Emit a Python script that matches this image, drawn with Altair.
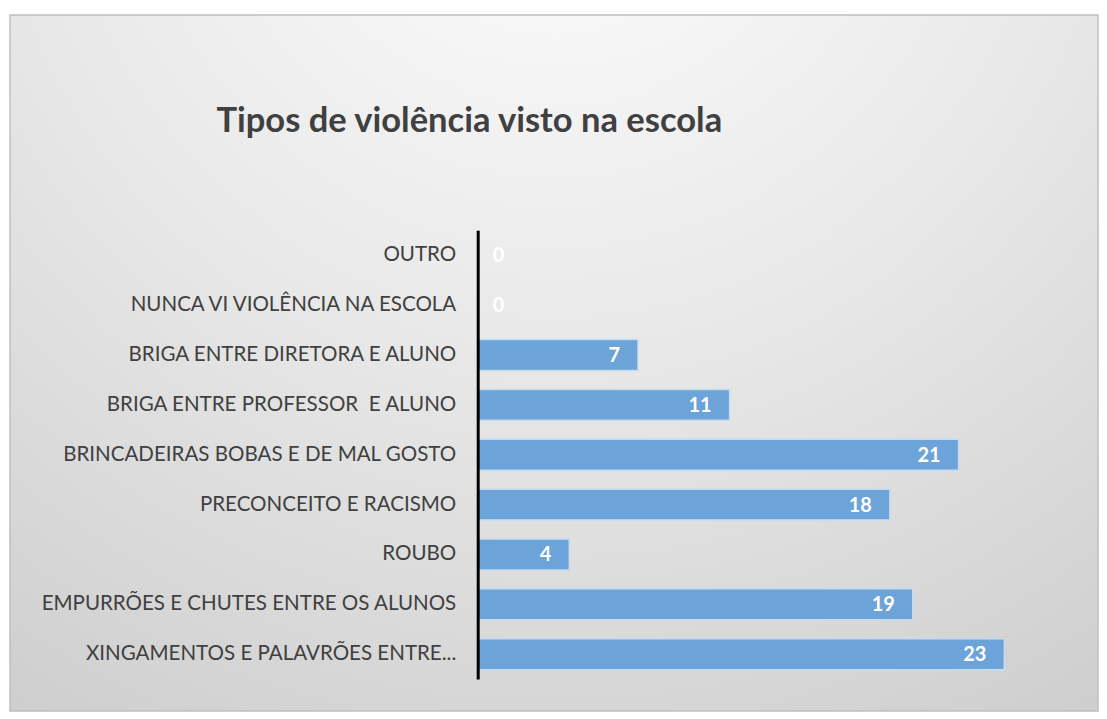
import altair as alt
import pandas as pd

categories = [
    "OUTRO",
    "NUNCA VI VIOLÊNCIA NA ESCOLA",
    "BRIGA ENTRE DIRETORA E ALUNO",
    "BRIGA ENTRE PROFESSOR\u00a0 E ALUNO",
    "BRINCADEIRAS BOBAS E DE MAL GOSTO",
    "PRECONCEITO E RACISMO",
    "ROUBO",
    "EMPURRÕES E CHUTES ENTRE OS ALUNOS",
    "XINGAMENTOS E PALAVRÕES ENTRE...",
]
values = [0, 0, 7, 11, 21, 18, 4, 19, 23]
title_text = "Tipos de violência visto na escola"

df = pd.DataFrame({"cat": categories, "v": values})

W, H = 574, 450
FONT = "Lato"

bg = alt.Chart(alt.Data(values=[{}])).mark_rect(
    fill=alt.RadialGradient(
        gradient="radial",
        x1=0.5, y1=0.0, r1=0.0,
        x2=0.5, y2=0.0, r2=1.1,
        stops=[
            alt.GradientStop(offset=0.0, color="#ffffff"),
            alt.GradientStop(offset=0.45, color="#e8e8e8"),
            alt.GradientStop(offset=1.0, color="#c6c6c6"),
        ],
    ),
    stroke="#bfbfbf",
    strokeWidth=1.5,
).encode(
    x=alt.value(-469), x2=alt.value(622),
    y=alt.value(-216), y2=alt.value(482),
)

title = alt.Chart(alt.Data(values=[{}])).mark_text(
    text=title_text, font=FONT, fontSize=34.6, fontWeight="bold",
    color="#404040", align="left", baseline="alphabetic",
).encode(x=alt.value(-262), y=alt.value(-99))

yenc = alt.Y(
    "cat:N", sort=categories, title=None,
    scale=alt.Scale(paddingInner=0.38, paddingOuter=0.19),
    axis=alt.Axis(
        domainColor="#000000", domainWidth=3, ticks=False,
        labelPadding=22, labelFont=FONT, labelFontSize=20.6,
        labelColor="#404040", labelLimit=600, zindex=1,
    ),
)
xenc = alt.X("v:Q", scale=alt.Scale(domain=[0, 25], nice=False), axis=None)

bars = alt.Chart(df).mark_bar(
    color="#6CA3D8", stroke="#c6dbef", strokeWidth=1.5
).encode(x=xenc, y=yenc)

labels = alt.Chart(df).transform_filter("datum.v > 0").mark_text(
    align="right", baseline="middle", dx=-18, dy=1, font=FONT,
    fontSize=20, fontWeight="bold", color="white",
).encode(x=xenc, y=yenc, text="v:Q")

zeros = alt.Chart(df).transform_filter("datum.v == 0").mark_text(
    align="left", baseline="middle", dx=15, dy=1, font=FONT,
    fontSize=20, fontWeight="bold", color="white",
).encode(x=xenc, y=yenc, text="v:Q")

chart = alt.layer(bg, title, bars, labels, zeros).properties(
    width=W, height=H,
    padding={"left": 1, "top": 5, "right": 0, "bottom": 0},
    background="white",
).configure_view(stroke=None)

chart.save("out.html", embed_options={"renderer": "svg", "actions": False})
